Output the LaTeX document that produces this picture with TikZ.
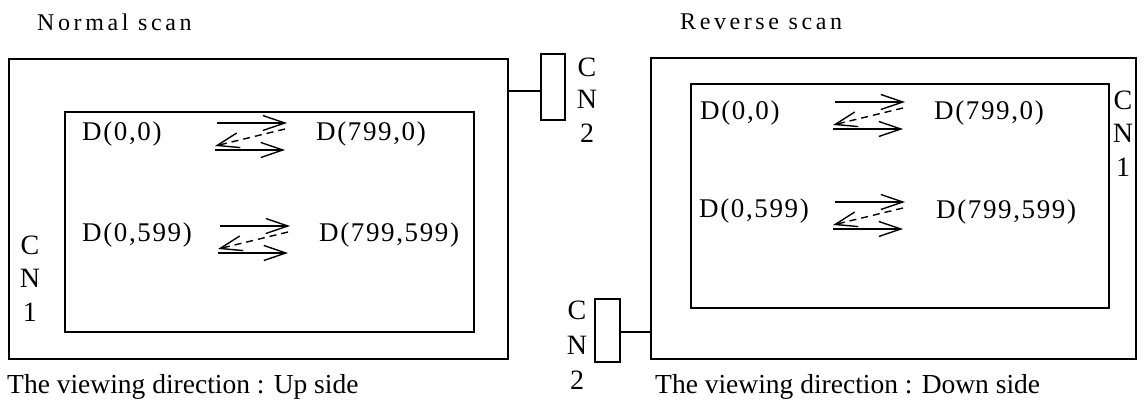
\documentclass[tikz,border=0pt]{standalone}
\usepackage{fontspec}
\setmainfont{Liberation Serif}
\usetikzlibrary{arrows.meta}

\tikzset{
  lbl/.style={font=\fontsize{27.5}{30}\selectfont, inner sep=0pt, anchor=west},
  title/.style={font=\fontsize{24}{28}\selectfont\addfontfeatures{LetterSpace=15}, inner sep=0pt, anchor=west},
  pix/.style={font=\fontsize{27}{30}\selectfont\addfontfeatures{LetterSpace=6}, inner sep=0pt, anchor=west},
  cnlbl/.style={font=\fontsize{28}{30}\selectfont, inner sep=0pt},
  frame/.style={draw, line width=1.6pt, inner sep=0pt, anchor=north west},
  scanarrow/.style={line width=1.4pt, -{Straight Barb[length=22pt,width=15pt,line width=1.4pt]}},
  backarrow/.style={scanarrow, dash pattern=on 7pt off 5pt},
}

\begin{document}
\begin{tikzpicture}[x=1pt,y=-1pt]
    \useasboundingbox (0,0) rectangle (1144,403);

    % Titles and captions
    \node[title] (normal) at (37,22) {Normal scan};
    \node[title] (reverse) at (680,22) {Reverse scan};
    \node[lbl] (upside) at (7,387) {The viewing direction : Up side};
    \node[lbl] (downside) at (655,387) {The viewing direction : Down side};

    % Panel frames
    \node[frame, minimum width=499, minimum height=300] (leftouter) at (8,58) {};
    \node[frame, minimum width=409, minimum height=220] (leftinner) at (64,111) {};
    \node[frame, minimum width=485, minimum height=301] (rightouter) at (650,57) {};
    \node[frame, minimum width=418, minimum height=224] (rightinner) at (690,83) {};

    % Connector boxes and their leads
    \node[frame, minimum width=24, minimum height=66] (cntwoL) at (540,53) {};
    \node[frame, minimum width=25, minimum height=63] (cntwoR) at (594,298) {};
    \coordinate (leadL) at (507,91);
    \coordinate (leadR) at (650,332);
    \draw[line width=1.6pt] (leadL) -- (leadL -| cntwoL.west);
    \draw[line width=1.6pt] (leadR) -- (leadR -| cntwoR.east);

    % Connector letters
    \foreach \n/\x/\y/\t in {cl1/30/245/C, cl2/30/278/N, cl3/30/312/1,
                             cm1/587/67/C, cm2/587/99/N, cm3/587/133/2,
                             cr1/1123/100/C, cr2/1123/133/N, cr3/1123/167/1,
                             cs1/577/310/C, cs2/577/345/N, cs3/577/380/2} {
      \node[cnlbl] (\n) at (\x,\y) {\t};
    }

    % Pixel labels
    \foreach \n/\x/\y/\t in {la/82/134/{D(0,0)}, lb/316/134/{D(799,0)},
                             lc/82/235/{D(0,599)}, ld/319/235/{D(799,599)},
                             ra/700/113/{D(0,0)}, rb/934/113/{D(799,0)},
                             rc/699/211/{D(0,599)}, rd/936/212/{D(799,599)}} {
      \node[pix] (\n) at (\x,\y) {\t};
    }

    % Scan arrows: forward, back (dashed), forward
    \foreach \n/\xa/\xb/\ya in {lt/217/287/123, lm/220/290/226, rt/835/905/102, rm/835/905/202} {
      \coordinate (\n s1) at (\xa,\ya);
      \coordinate (\n e1) at (\xb,\ya);
      \coordinate (\n s2) at (\xb-2,\ya+6);
      \coordinate (\n e2) at (\xa-2,\ya+23);
      \coordinate (\n s3) at (\xa-2,\ya+27);
      \coordinate (\n e3) at (\xb-2,\ya+27);
      \draw[scanarrow] (\n s1) -- (\n e1);
      \draw[backarrow] (\n s2) -- (\n e2);
      \draw[scanarrow] (\n s3) -- (\n e3);
    }
\end{tikzpicture}
\end{document}
